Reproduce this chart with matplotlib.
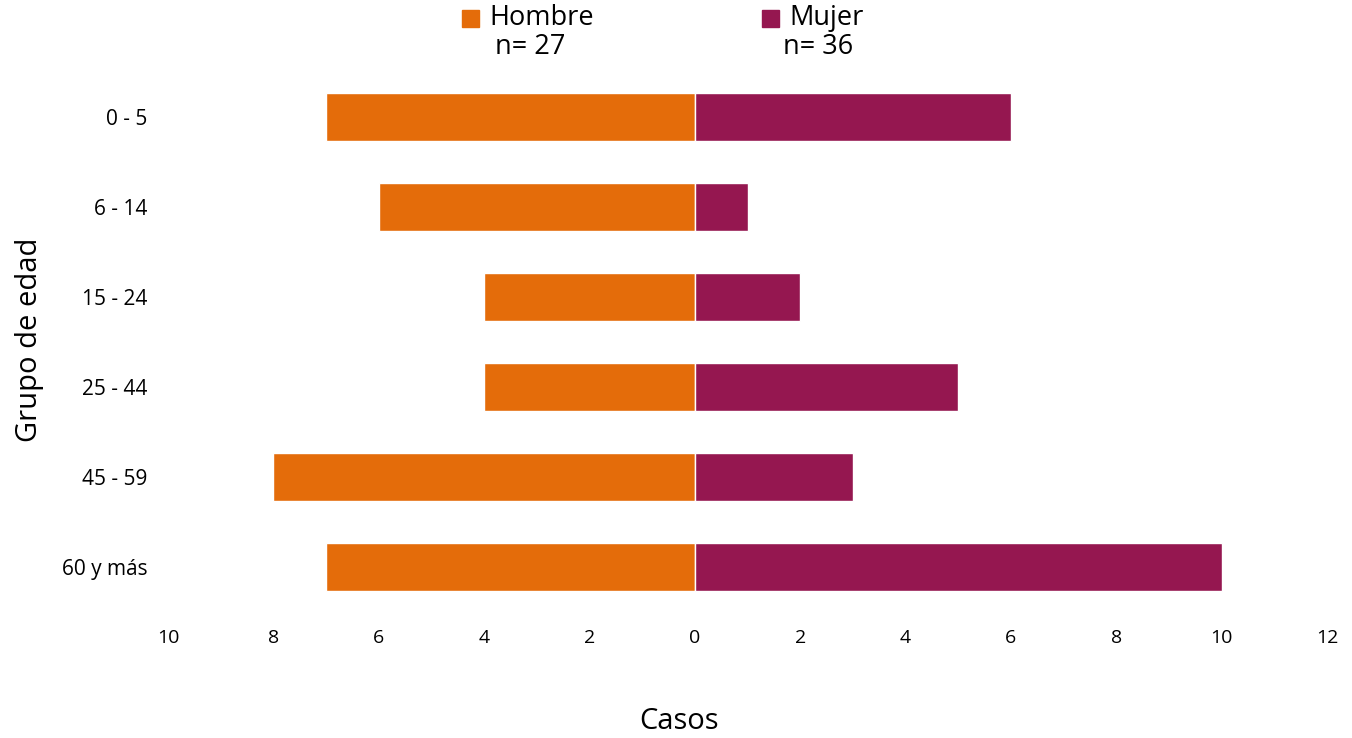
import matplotlib
matplotlib.use('Agg')
from matplotlib import pyplot as plt
from matplotlib.patches import Rectangle

plt.rcParams['font.family'] = ['Open Sans', 'DejaVu Sans']

################################################################################
### Data
################################################################################
grupos = ['0 - 5', '6 - 14', '15 - 24', '25 - 44', '45 - 59', '60 y más']
hombre = [7, 6, 4, 4, 8, 7]
mujer = [6, 1, 2, 5, 3, 10]
xticks = [-10, -8, -6, -4, -2, 0, 2, 4, 6, 8, 10, 12]

color_h = '#E46C0A'
color_m = '#951750'

################################################################################
### Figure
################################################################################
fig = plt.figure(figsize=(13.52, 7.38), dpi=100)
ax = fig.add_axes([0.1243, 0.1707, 0.8572, 0.7317])

ypos = list(range(len(grupos)))
ax.barh(ypos, [-v for v in hombre], height=0.53, color=color_h,
        edgecolor='white', linewidth=1)
ax.barh(ypos, mujer, height=0.53, color=color_m,
        edgecolor='white', linewidth=1)

ax.set_xlim(-10, 12)
ax.set_ylim(len(grupos) - 0.5, -0.5)
ax.set_yticks(ypos)
ax.set_yticklabels(grupos, fontsize=15)
ax.set_xticks(xticks)
ax.set_xticklabels([str(abs(t)) for t in xticks], fontsize=14)
ax.tick_params(length=0)
ax.tick_params(axis='x', pad=12)
ax.tick_params(axis='y', pad=15)
for s in ax.spines.values():
    s.set_visible(False)

fig.text(0.502, 0.022, 'Casos', fontsize=21, ha='center', va='center')
fig.text(0.022, 0.54, 'Grupo de edad', fontsize=21, ha='center', va='center',
         rotation=90)

# legend at top
fig.patches.append(Rectangle((462 / 1352, 1 - 27 / 738), 17 / 1352, 17 / 738,
                             transform=fig.transFigure, color=color_h))
fig.text(489 / 1352, 1 - 18 / 738, 'Hombre', fontsize=19.5, va='center')
fig.text(530 / 1352, 1 - 47 / 738, 'n= 27', fontsize=19.5, ha='center', va='center')
fig.patches.append(Rectangle((762 / 1352, 1 - 27 / 738), 17 / 1352, 17 / 738,
                             transform=fig.transFigure, color=color_m))
fig.text(789 / 1352, 1 - 18 / 738, 'Mujer', fontsize=19.5, va='center')
fig.text(818 / 1352, 1 - 47 / 738, 'n= 36', fontsize=19.5, ha='center', va='center')

fig.savefig('out.png', dpi=100)
